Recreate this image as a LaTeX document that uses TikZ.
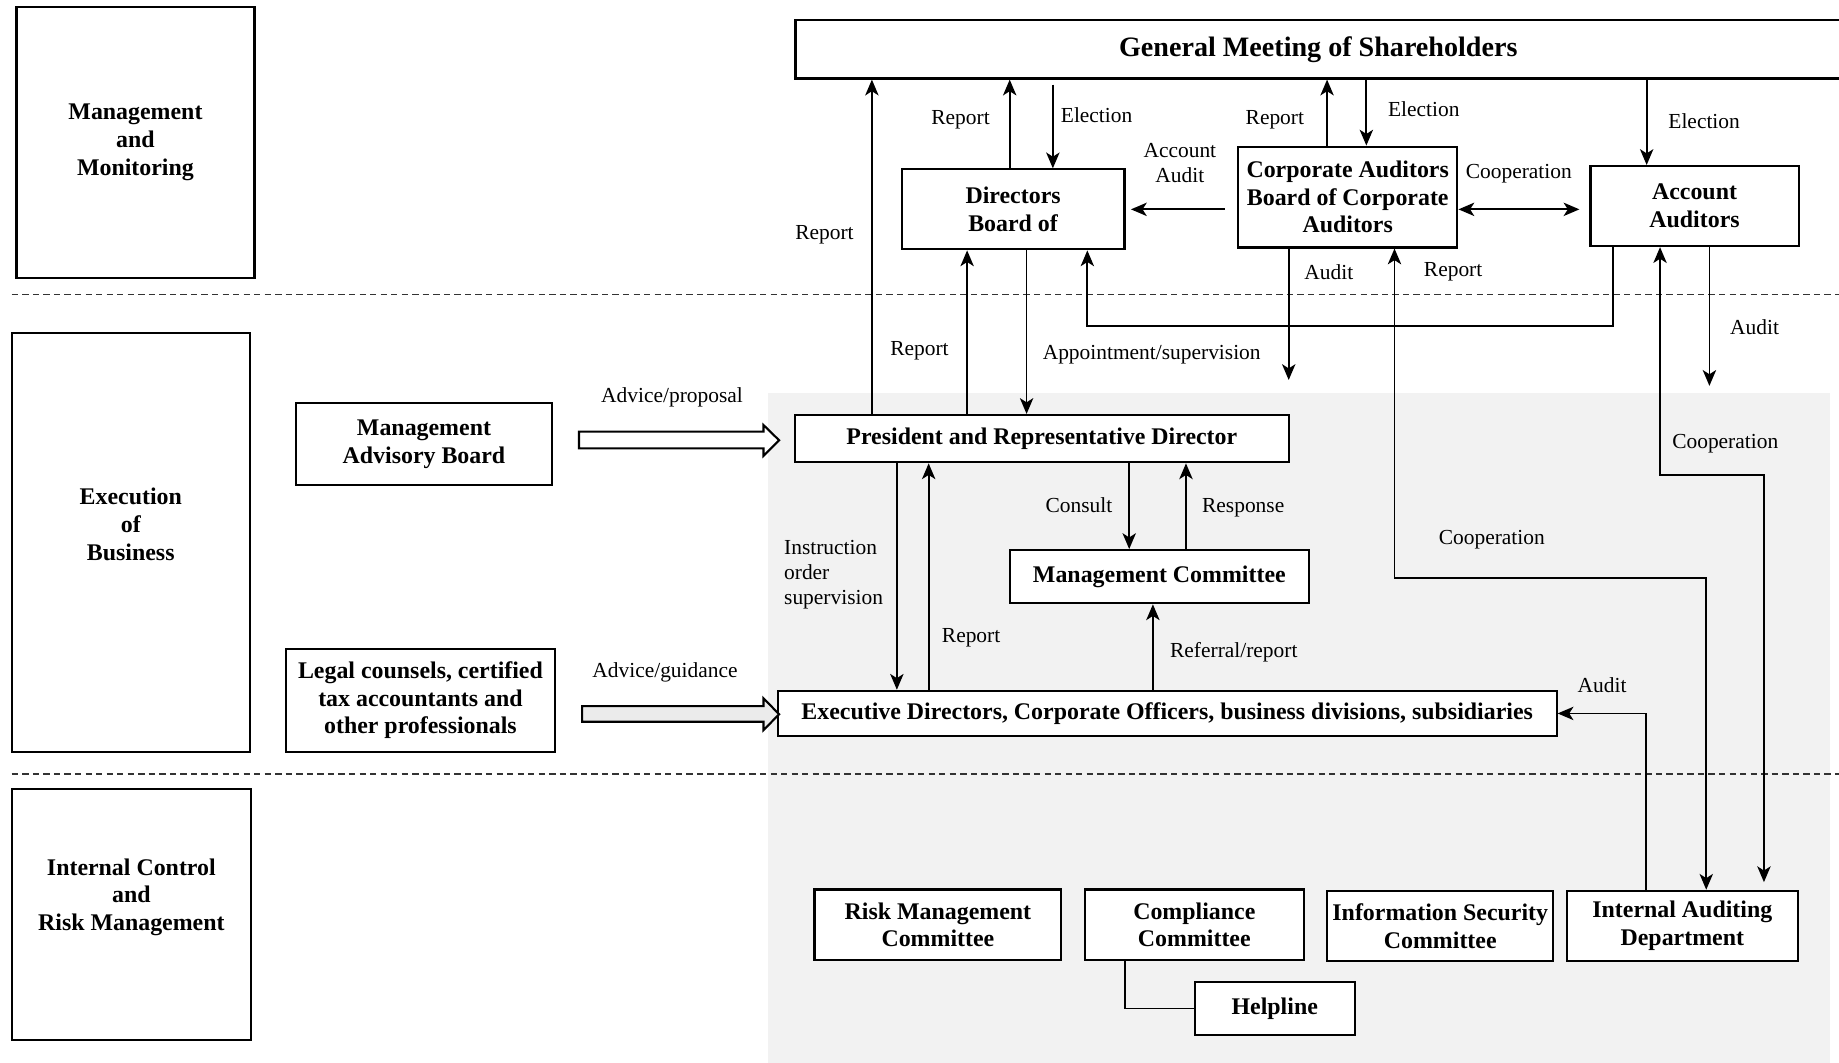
\documentclass[tikz,border=0pt]{standalone}
\usepackage{fontspec}
\setmainfont{Liberation Serif}
\usetikzlibrary{arrows.meta}

\begin{document}
\begin{tikzpicture}[x=0.011728cm, y=-0.011728cm,
  >={Stealth[length=4.5pt,width=3.8pt,inset=1.2pt]},
  head/.style={align=center, inner sep=1pt, font=\fontsize{6.8}{7.9}\selectfont\bfseries},
  box/.style={head, draw, line width=0.6pt, fill=white},
  lbl/.style={align=center, inner sep=0pt, font=\fontsize{6.1}{7}\selectfont},
  arr/.style={->, line width=0.5pt},
  dbl/.style={<->, line width=0.5pt},
  sep/.style={dash pattern=on 1.8pt off 1.2pt, line width=0.4pt, black!80}]
\useasboundingbox (0,0) rectangle (1568,906);

\fill[black!5] (655,335) rectangle (1560,906);
\draw[sep] (10,251) -- (1568,251);
\draw[sep] (10,660) -- (1568,660);

\node[box, minimum width=2.381cm, minimum height=2.709cm] (mm) at (115.5,121.5) {Management\\and\\Monitoring};
\node[box, minimum width=2.381cm, minimum height=4.187cm] (eb) at (111.5,462.5) {};
\node[head] at (111.5,447) {Execution\\of\\Business};
\node[box, minimum width=2.393cm, minimum height=2.510cm] (icrm) at (112,780) {};
\node[head] at (112,765) {Internal Control\\and\\Risk Management};

\node[box, minimum width=10.461cm, minimum height=0.586cm, font=\fontsize{8}{9}\selectfont\bfseries] (gm) at (1124,42) {General Meeting of Shareholders};
\node[box, minimum width=2.229cm, minimum height=0.800cm] (bod) at (863.8,178.5) {Directors\\Board of};
\node[box, minimum width=2.195cm, minimum height=1.009cm] (cab) at (1149.1,168) {Corporate Auditors\\Board of Corporate\\Auditors};
\node[box, minimum width=2.082cm, minimum height=0.801cm] (aa) at (1444.8,175.7) {Account\\Auditors};

\node[box, minimum width=2.561cm, minimum height=0.820cm] (mab) at (361.5,378.6) {Management\\Advisory Board};
\node[box, minimum width=2.685cm, minimum height=1.031cm] (legal) at (358.5,597) {Legal counsels, certified\\tax accountants and\\other professionals};
\node[box, minimum width=4.937cm, minimum height=0.473cm] (pres) at (888.3,374) {President and Representative Director};
\node[box, minimum width=2.992cm, minimum height=0.532cm] (mc) at (988.5,491.7) {Management Committee};
\node[box, minimum width=7.791cm, minimum height=0.453cm] (exec) at (995.2,608.3) {Executive Directors, Corporate Officers, business divisions, subsidiaries};

\node[box, minimum width=2.470cm, minimum height=0.707cm] (rmc) at (799.7,788.5) {Risk Management\\Committee};
\node[box, minimum width=2.187cm, minimum height=0.707cm] (cc) at (1018.3,788.5) {Compliance\\Committee};
\node[box, minimum width=2.264cm, minimum height=0.706cm] (isc) at (1228,789.6) {Information Security\\Committee};
\node[box, minimum width=2.313cm, minimum height=0.706cm] (iad) at (1434.4,789.6) {Internal Auditing\\Department};
\node[box, minimum width=1.597cm, minimum height=0.528cm] (help) at (1086.9,859.8) {Helpline};

\coordinate (auditend) at (1098.8,324);
\coordinate (aaauditend) at (1457.5,329);

\draw[arr] (pres.north -| 743.4,0) -- (gm.south -| 743.4,0);
\draw[arr] (bod.north -| 860.9,0) -- (gm.south -| 860.9,0);
\draw[arr, shorten <=1.4pt] (gm.south -| 897.7,0) -- (bod.north -| 897.7,0);
\draw[arr] (cab.north -| 1131.5,0) -- (gm.south -| 1131.5,0);
\draw[arr] (gm.south -| 1165,0) -- (cab.north -| 1165,0);
\draw[arr] (gm.south -| 1404,0) -- (aa.north -| 1404,0);
\draw[arr, shorten <=0.123cm, shorten >=0.054cm] (cab.west |- 0,178.5) -- (bod.east |- 0,178.5);
\draw[dbl, shorten >=0.1cm] (cab.east |- 0,178.5) -- (aa.west |- 0,178.5);

\draw[arr] (pres.north -| 824.6,0) -- (bod.south -| 824.6,0);
\draw[arr] (bod.south -| 875.3,0) -- (pres.north -| 875.3,0);
\draw[arr] (aa.south -| 1375.4,0) |- (927.1,277.7) -- (bod.south -| 927.1,0);
\draw[arr] (cab.south -| 1098.8,0) -- (auditend);
\draw[dbl] (cab.south -| 1189,0) |- (1454.8,492.6) -- (iad.north -| 1454.8,0);
\draw[dbl, shorten >=0.076cm] (aa.south -| 1415.4,0) |- (1504,405) -- (iad.north -| 1504,0);
\draw[arr] (aa.south -| 1457.5,0) -- (aaauditend);

\draw[arr] (pres.south -| 764.7,0) -- (exec.north -| 764.7,0);
\draw[arr] (exec.north -| 791.8,0) -- (pres.south -| 791.8,0);
\draw[arr] (pres.south -| 962.8,0) -- (mc.north -| 962.8,0);
\draw[arr] (mc.north -| 1011.2,0) -- (pres.south -| 1011.2,0);
\draw[arr] (exec.north -| 983,0) -- (mc.south -| 983,0);
\draw[arr] (iad.north -| 1403.2,0) |- (exec.east);
\draw[line width=0.5pt] (cc.south -| 959,0) |- (help.west);

\draw[line width=0.6pt, fill=white] (493.7,368) -- (651,368) -- (651,362.4) -- (664.3,375.4) -- (651,388.6) -- (651,382.3) -- (493.7,382.3) -- cycle;
\draw[line width=0.6pt, fill=black!8] (496.3,602) -- (651,602) -- (651,595.4) -- (664.3,609) -- (651,622.5) -- (651,615.4) -- (496.3,615.4) -- cycle;

\node[lbl] at (703,200) {Report};
\node[lbl] at (819,102) {Report};
\node[lbl] at (935,98) {Election};
\node[lbl] at (1087,102) {Report};
\node[lbl] at (1214,93) {Election};
\node[lbl] at (1453,103) {Election};
\node[lbl] at (1006,139) {Account\\Audit};
\node[lbl] at (1295,148) {Cooperation};
\node[lbl] at (1133,232) {Audit};
\node[lbl] at (1239,232) {Report};
\node[lbl] at (1496,279) {Audit};
\node[lbl] at (784,299) {Report};
\node[lbl] at (982,302) {Appointment/supervision};
\node[lbl] at (573,339) {Advice/proposal};
\node[lbl] at (1471,378) {Cooperation};
\node[lbl] at (920,431) {Consult};
\node[lbl] at (1060,433) {Response};
\node[lbl] at (1272,460) {Cooperation};
\node[lbl, align=left, anchor=west] at (668,490) {Instruction\\order\\supervision};
\node[lbl] at (828,544) {Report};
\node[lbl] at (1052,556) {Referral/report};
\node[lbl] at (567,573) {Advice/guidance};
\node[lbl] at (1366,584) {Audit};
\end{tikzpicture}
\end{document}
